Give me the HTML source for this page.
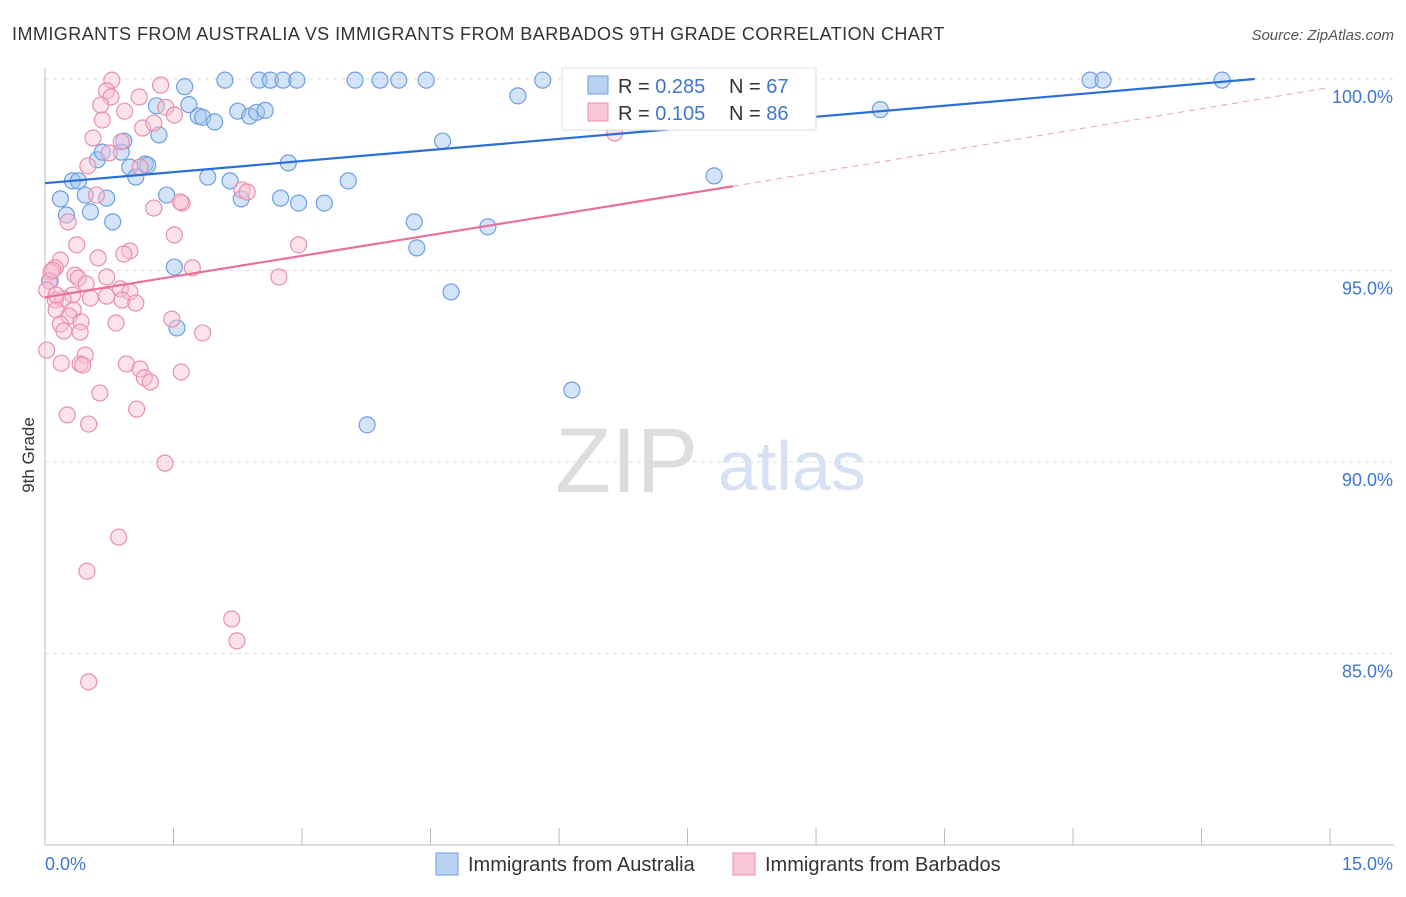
<!DOCTYPE html>
<html><head><meta charset="utf-8"><style>
body{margin:0;background:#fff;font-family:"Liberation Sans",sans-serif;}
svg text{font-family:"Liberation Sans",sans-serif;}
</style></head><body>
<svg id="chart" width="1406" height="892">
<text x="12" y="40" font-size="18" letter-spacing="0.45" fill="#333">IMMIGRANTS FROM AUSTRALIA VS IMMIGRANTS FROM BARBADOS 9TH GRADE CORRELATION CHART</text>
<text x="1394" y="40" font-size="15" fill="#555" font-style="italic" text-anchor="end">Source: ZipAtlas.com</text>
<text x="34" y="455" font-size="17" fill="#333" text-anchor="middle" transform="rotate(-90 34 455)">9th Grade</text>
<text x="555" y="492" font-size="92" fill="#ddd" font-family="Liberation Serif">ZIP</text>
<text x="718" y="490" font-size="70" fill="#d6e2f3">atlas</text>
<g id="grid"></g><g id="axes"></g><g id="pts"></g><g id="lines"></g>
<g>
<rect x="562" y="68" width="254" height="62" fill="#fff" stroke="#ddd"/>
<rect x="588" y="76" width="20" height="18" fill="#b9d2f3" stroke="#6e9ee0"/>
<text x="618" y="93" font-size="20" fill="#333">R = <tspan fill="#3d77d0">0.285</tspan></text>
<text x="729" y="93" font-size="20" fill="#333">N = <tspan fill="#3d77d0">67</tspan></text>
<rect x="588" y="103" width="20" height="18" fill="#f8c6d6" stroke="#e890ad"/>
<text x="618" y="120" font-size="20" fill="#333">R = <tspan fill="#3d77d0">0.105</tspan></text>
<text x="729" y="120" font-size="20" fill="#333">N = <tspan fill="#3d77d0">86</tspan></text>
</g>
<g>
<rect x="436" y="853" width="22" height="22" fill="#b9d2f3" stroke="#6e9ee0"/>
<text x="468" y="871" font-size="20" fill="#333">Immigrants from Australia</text>
<rect x="733" y="853" width="22" height="22" fill="#f8c6d6" stroke="#e890ad"/>
<text x="765" y="871" font-size="20" fill="#333">Immigrants from Barbados</text>
</g>
</svg>
<script>
const yTicks=[100,95,90,85];
const xTickLabels=["0.0%","15.0%"];
const blueX=[0.18,0.32,0.39,0.47,0.53,0.25,0.61,0.67,0.72,0.79,0.89,0.92,0.99,1.06,1.17,1.2,1.3,1.33,1.42,1.51,1.54,1.63,1.68,1.79,1.84,1.98,1.9,2.1,2.16,2.25,2.29,2.39,2.47,2.5,2.57,2.63,2.78,2.94,2.84,2.75,2.96,3.26,3.54,3.62,3.76,3.91,4.13,4.45,4.31,4.34,4.64,4.74,5.17,5.52,5.81,6.15,6.25,6.88,7.81,9.75,12.2,12.35,13.74,0.06];
const blueY=[96.87,97.34,97.34,96.97,96.53,96.45,97.89,98.09,96.89,96.27,98.09,98.38,97.7,97.44,97.78,97.75,99.3,98.54,96.97,95.09,93.5,99.8,99.33,99.03,99.0,98.88,97.44,99.97,97.34,99.16,96.87,99.03,99.13,99.97,99.18,99.97,99.97,99.97,97.81,96.89,96.76,96.76,97.34,99.97,90.97,99.97,99.97,99.97,96.27,95.59,98.38,94.44,96.14,99.56,99.97,91.88,99.97,99.48,97.47,99.2,99.97,99.97,99.97,94.73];
const pinkX=[0.78,1.35,0.72,0.77,1.1,0.65,1.41,0.93,1.51,0.67,1.14,0.56,1.27,0.89,0.75,0.5,1.11,2.3,0.6,1.27,1.6,1.58,0.27,1.51,0.37,2.96,0.99,0.92,0.62,0.18,0.12,0.07,0.35,0.39,0.72,1.72,2.73,0.05,0.48,0.88,0.99,0.32,0.72,0.12,0.21,0.53,0.9,1.06,0.13,0.33,0.28,0.18,0.42,0.83,1.48,0.22,0.41,1.84,0.02,0.47,0.19,0.41,0.44,0.95,1.11,1.16,1.23,1.59,0.64,0.26,1.07,0.51,1.4,0.86,0.49,2.18,2.24,0.51,6.65,2.36,0.09,0.02,0.13];
const pinkY=[99.97,99.84,99.69,99.53,99.53,99.32,99.26,99.16,99.06,98.93,98.72,98.46,98.85,98.36,98.07,97.73,97.7,97.1,96.97,96.63,96.76,96.79,96.27,95.93,95.67,95.67,95.51,95.43,95.33,95.27,95.07,94.96,94.88,94.8,94.83,95.07,94.83,94.73,94.65,94.52,94.44,94.36,94.33,94.23,94.26,94.28,94.23,94.15,93.97,93.97,93.81,93.6,93.66,93.63,93.73,93.42,93.39,93.37,92.92,92.79,92.58,92.56,92.53,92.56,92.43,92.2,92.09,92.35,91.8,91.23,91.38,90.99,89.97,88.04,87.15,85.9,85.33,84.26,98.59,97.05,95.01,94.49,94.36];
const X=v=>45+v*85.67, Y=v=>79+(100-v)*38.3;
const NS="http://www.w3.org/2000/svg";
function mk(p,t,a){const e=document.createElementNS(NS,t);for(const k in a)e.setAttribute(k,a[k]);p.appendChild(e);return e;}
const grid=document.getElementById('grid'),axes=document.getElementById('axes'),pts=document.getElementById('pts'),lines=document.getElementById('lines');
yTicks.forEach(t=>{
 const l=mk(grid,'line',{x1:45,x2:1394,y1:Y(t),y2:Y(t),stroke:'#ddd','stroke-dasharray':'4,4'});
 
 
 const tx=mk(axes,'text',{x:1393,y:Y(t)+24,'font-size':18,fill:'#3d77d0','text-anchor':'end'});
 tx.textContent=t.toFixed(1)+'%';
 
 
});
const xa=mk(axes,'line',{x1:45,x2:1394,y1:845,y2:845,stroke:'#bbb'});


const ya=mk(axes,'line',{x1:45,x2:45,y1:68,y2:845,stroke:'#bbb'});


for(let i=0;i<=10;i++){const t=mk(axes,'line',{x1:X(i*1.5),x2:X(i*1.5),y1:828,y2:845,stroke:'#bbb'});
 
 }
const l0=mk(axes,'text',{x:45,y:870,'font-size':18,fill:'#3d77d0'});l0.textContent=xTickLabels[0];


const l1=mk(axes,'text',{x:1393,y:870,'font-size':18,fill:'#3d77d0','text-anchor':'end'});l1.textContent=xTickLabels[1];


blueX.forEach((x,i)=>{const c=mk(pts,'circle',{cx:X(x),cy:Y(blueY[i]),r:8,fill:'rgba(160,195,240,0.45)',stroke:'#6e9ee0','stroke-width':1.2});
 
 });
pinkX.forEach((x,i)=>{const c=mk(pts,'circle',{cx:X(x),cy:Y(pinkY[i]),r:8,fill:'rgba(248,190,210,0.45)',stroke:'#e890ad','stroke-width':1.2});
 
 });
const bl=mk(lines,'line',{x1:X(0),y1:Y(97.28),x2:X(14.12),y2:Y(100),stroke:'#2a6fd6','stroke-width':2.2});


const pl=mk(lines,'line',{x1:X(0),y1:Y(94.3),x2:X(8.03),y2:Y(97.2),stroke:'#e8709a','stroke-width':2.2});


const pd=mk(lines,'line',{x1:X(8.03),y1:Y(97.2),x2:X(15),y2:Y(99.78),stroke:'#e8a0b8','stroke-width':1,'stroke-dasharray':'6,5'});


</script>
</body></html>
